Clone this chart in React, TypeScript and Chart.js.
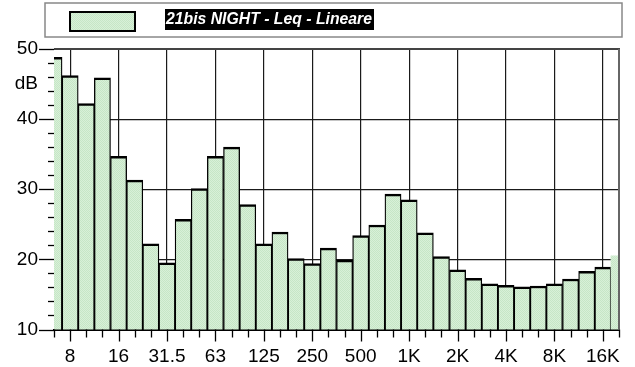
import React, { useEffect, useRef } from 'react';
import { Chart, registerables } from 'chart.js';

Chart.register(...registerables);

// ---- data ----
const bands = ['6.3', '8', '10', '12.5', '16', '20', '25', '31.5', '40', '50', '63', '80', '100', '125', '160', '200', '250', '315', '400', '500', '630', '800', '1K', '1.25K', '1.6K', '2K', '2.5K', '3.15K', '4K', '5K', '6.3K', '8K', '10K', '12.5K', '16K', '20K'];
const levels = [48.8, 46.2, 42.2, 45.9, 34.7, 31.3, 22.2, 19.5, 25.7, 30.1, 34.7, 36.0, 27.8, 22.2, 23.9, 20.1, 19.4, 21.6, 19.9, 23.4, 24.9, 29.3, 28.5, 23.8, 20.4, 18.5, 17.3, 16.5, 16.3, 16.1, 16.2, 16.5, 17.2, 18.3, 18.9, 20.5];
const shownLabels = ['8', '16', '31.5', '63', '125', '250', '500', '1K', '2K', '4K', '8K', '16K'];
const yMin = 10;
const yMax = 50;
const yLabelStep = 10;
const yMinorStep = 2;
const seriesName = '21bis NIGHT - Leq - Lineare';
const yUnit = 'dB';

const FONT = 'Arial, "Liberation Sans", sans-serif';

function makePattern(): CanvasPattern | string {
  const c = document.createElement('canvas');
  c.width = 2;
  c.height = 2;
  const g = c.getContext('2d');
  if (!g) return '#d2edd2';
  g.fillStyle = '#d8f0d8';
  g.fillRect(0, 0, 2, 2);
  g.fillStyle = '#c6e6c6';
  g.fillRect(0, 0, 1, 1);
  g.fillRect(1, 1, 1, 1);
  const p = g.createPattern(c, 'repeat');
  return p || '#d2edd2';
}

const decorPlugin = {
  id: 'decor',
  afterDraw(chart: any) {
    const ctx = chart.ctx as CanvasRenderingContext2D;
    const area = chart.chartArea;
    const xs = chart.scales.x;
    const ys = chart.scales.y;
    ctx.save();
    // top border
    ctx.strokeStyle = '#444';
    ctx.lineWidth = 2;
    ctx.beginPath();
    ctx.moveTo(area.left, area.top);
    ctx.lineTo(area.right + 1, area.top);
    ctx.stroke();
    // right border
    ctx.strokeStyle = '#666';
    ctx.beginPath();
    ctx.moveTo(area.right, area.top);
    ctx.lineTo(area.right, area.bottom);
    ctx.stroke();

    // y tick marks
    ctx.strokeStyle = '#000';
    ctx.lineWidth = 1.3;
    for (let v = yMin; v <= yMax; v += yMinorStep) {
      const y = Math.round(ys.getPixelForValue(v)) + 0.5;
      const len = v % yLabelStep === 0 ? 15 : 6;
      ctx.beginPath();
      ctx.moveTo(area.left - len, y);
      ctx.lineTo(area.left, y);
      ctx.stroke();
    }
    // x tick marks
    for (let i = 0; i < bands.length; i++) {
      const x = Math.round(xs.getPixelForValue(i)) + 0.5;
      const len = shownLabels.includes(bands[i]) ? 12 : 8;
      ctx.beginPath();
      ctx.moveTo(x, area.bottom);
      ctx.lineTo(x, area.bottom + len);
      ctx.stroke();
    }

    // unit label
    ctx.fillStyle = '#000';
    ctx.font = `19px ${FONT}`;
    ctx.textAlign = 'right';
    ctx.textBaseline = 'middle';
    ctx.fillText(yUnit, 38, 84);

    // legend box
    ctx.fillStyle = '#fff';
    ctx.fillRect(45, 3, 577, 34);
    ctx.strokeStyle = '#888';
    ctx.lineWidth = 1.5;
    ctx.strokeRect(45, 3, 577, 34);
    // swatch
    ctx.fillStyle = (chart.data.datasets[0].backgroundColor as any);
    ctx.fillRect(70, 12, 65, 19);
    ctx.strokeStyle = '#000';
    ctx.lineWidth = 2;
    ctx.strokeRect(70, 12, 65, 19);
    // legend text
    ctx.fillStyle = '#000';
    ctx.fillRect(165, 9, 209, 21);
    ctx.fillStyle = '#fff';
    ctx.font = `italic bold 17px ${FONT}`;
    ctx.textAlign = 'left';
    ctx.textBaseline = 'middle';
    ctx.fillText(seriesName, 166, 19.5, 206);
    ctx.restore();
  },
};

export default function App() {
  const ref = useRef<HTMLCanvasElement | null>(null);
  useEffect(() => {
    document.body.style.margin = '0';
    if (!ref.current) return;
    const fill = makePattern();
    const last = levels.length - 1;
    const chart = new Chart(ref.current, {
      type: 'bar',
      data: {
        labels: bands,
        datasets: [
          {
            label: seriesName,
            data: levels,
            backgroundColor: fill as any,
            borderColor: '#000',
            borderWidth: levels.map((_, i) =>
              i === last ? 0 : { top: 2.5, left: 1.3, right: 1.3, bottom: 0 }
            ) as any,
            borderSkipped: 'start',
            barPercentage: 1,
            categoryPercentage: 1,
            grouped: false,
            clip: 0 as any,
          },
        ],
      },
      options: {
        animation: false,
        responsive: true,
        maintainAspectRatio: false,
        layout: { padding: { top: 49, right: 12, left: 0, bottom: 0 } },
        plugins: { legend: { display: false }, tooltip: { enabled: false } },
        scales: {
          x: {
            type: 'category',
            offset: false,
            grid: {
              offset: false,
              drawTicks: false,
              lineWidth: 1.2,
              color: (c: any) => {
                const i = c.index;
                if (i === undefined) return 'transparent';
                return shownLabels.includes(bands[i]) ? '#1a1a1a' : 'transparent';
              },
            },
            border: { display: true, color: '#000', width: 2 },
            ticks: {
              autoSkip: false,
              maxRotation: 0,
              padding: 16,
              color: '#000',
              font: { family: FONT, size: 19 },
              callback: (_v: any, i: number) => (shownLabels.includes(bands[i]) ? bands[i] : ''),
            },
            afterFit: (s: any) => {
              s.height = 37.5;
            },
          },
          y: {
            type: 'linear',
            min: yMin,
            max: yMax,
            beginAtZero: false,
            grid: {
              drawTicks: false,
              lineWidth: 1.2,
              color: (c: any) => {
                const v = c.tick ? c.tick.value : null;
                if (v === null) return 'transparent';
                return v % yLabelStep === 0 && v !== yMin && v !== yMax ? '#1a1a1a' : 'transparent';
              },
            },
            border: { display: false },
            ticks: {
              stepSize: yMinorStep,
              autoSkip: false,
              padding: 16,
              color: '#000',
              font: { family: FONT, size: 19 },
              callback: (v: any) => (Number(v) % yLabelStep === 0 ? String(v) : ''),
            },
            afterFit: (s: any) => {
              s.width = 54;
            },
          },
        },
      },
      plugins: [decorPlugin],
    });
    return () => chart.destroy();
  }, []);
  return (
    <div style={{ position: 'absolute', left: 0, top: 0, width: 635, height: 367 }}>
      <canvas ref={ref} />
    </div>
  );
}
